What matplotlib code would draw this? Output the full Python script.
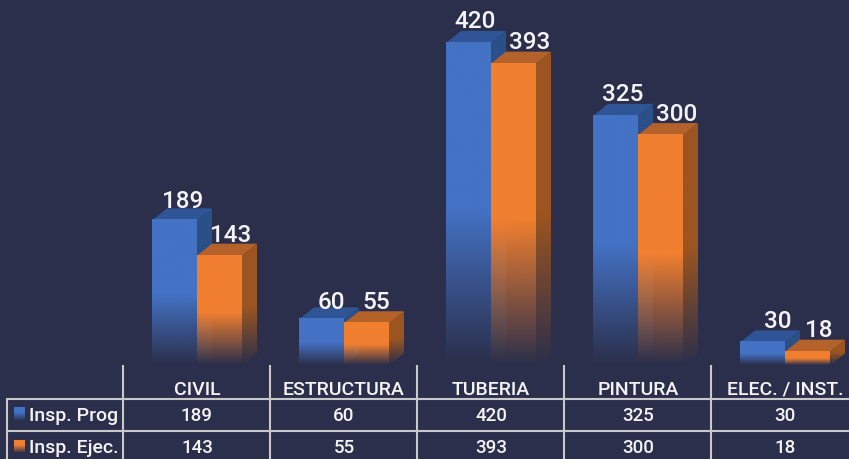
import numpy as np
import matplotlib
matplotlib.use("Agg")
import matplotlib.pyplot as plt
from matplotlib.patches import Polygon
from matplotlib.colors import to_rgb

categories = ["CIVIL", "ESTRUCTURA", "TUBERIA", "PINTURA", "ELEC. / INST."]
insp_prog = [189, 60, 420, 325, 30]
insp_ejec = [143, 55, 393, 300, 18]

# label nudges in pixels, the 3d labels are not centred on the bars
prog_nudge = [8, 10, 7, 7, 15]
ejec_nudge = [11, 10, 16, 16, 11]
prog_lift = [20, 18, 22, 22, 22]
ejec_lift = [21, 22, 22, 22, 22]

BG = "#2b2f4b"
BLUE = ("#4472c4", "#2f5597", "#2b5088")
ORANGE = ("#f17f30", "#b5622a", "#9c5520")
LINE = "#c9c9c9"
WHITE = "#f4f4f4"

plt.rcParams["font.family"] = ["Roboto", "DejaVu Sans"]
plt.rcParams["font.weight"] = "medium"

W, H = 849, 460
PX_X = 147.0    # pixels per category
PX_Y = 0.768    # pixels per unit
X0, Y0 = 197.0, 366.5
BAR = 45 / PX_X
DX, DY = 15 / PX_X, 12 / PX_Y
FADE = 0.48     # part of the bar height that fades out


def py(p):
    return (Y0 - p) / PX_Y


def px(p):
    return (p - X0) / PX_X


fig = plt.figure(figsize=(W / 100, H / 100), dpi=100, facecolor=BG)
ax = fig.add_axes([0, 0, 1, 1])
ax.set_xlim(px(0), px(W))
ax.set_ylim(py(H), py(0))
ax.axis("off")


def fade_image(color, top, bottom, left, right, clip, z):
    # solid colour on top, alpha going to zero in the lower part of the bar
    n = 200
    rgba = np.zeros((n, 1, 4))
    rgba[:, :, :3] = to_rgb(color)
    t = np.linspace(0, 1, n)
    start = 1 - FADE
    rgba[:, 0, 3] = np.clip((1 - t) / (1 - start), 0, 1)
    im = ax.imshow(rgba, extent=(left, right, bottom, top), aspect="auto",
                   interpolation="bilinear", zorder=z)
    im.set_clip_path(clip)


def draw_bar(x, v, colors, z):
    front, top, side = colors
    # side face
    p = Polygon([(x + BAR, 0), (x + BAR + DX, DY), (x + BAR + DX, v + DY), (x + BAR, v)],
                closed=True, fc="none", ec="none", transform=ax.transData)
    ax.add_patch(p)
    fade_image(side, v + DY, 0, x + BAR, x + BAR + DX, p, z)
    # top face
    ax.add_patch(Polygon([(x, v), (x + DX, v + DY), (x + BAR + DX, v + DY), (x + BAR, v)],
                         closed=True, fc=top, ec="none", zorder=z))
    # front face
    fade_image(front, v, 0, x, x + BAR, ax.patch, z + 0.1)


for i in range(len(categories)):
    draw_bar(i - BAR, insp_prog[i], BLUE, 2)
    draw_bar(i, insp_ejec[i], ORANGE, 3)
    ax.annotate(str(insp_prog[i]), (i - BAR / 2, insp_prog[i]),
                xytext=(prog_nudge[i] * 0.72, prog_lift[i] * 0.72), textcoords="offset points",
                ha="center", va="center", color=WHITE, fontsize=17.5, zorder=5)
    ax.annotate(str(insp_ejec[i]), (i + BAR / 2, insp_ejec[i]),
                xytext=(ejec_nudge[i] * 0.72, ejec_lift[i] * 0.72), textcoords="offset points",
                ha="center", va="center", color=WHITE, fontsize=17.5, zorder=5)

# table under the chart
for i in range(len(categories)):
    xl = i - 0.5 - 1 / PX_X
    ax.plot([xl, xl], [py(366), py(H)], color=LINE, lw=1.5, zorder=4, solid_capstyle="butt")
    ax.text(i, py(390), categories[i], ha="center", va="center", color=WHITE, fontsize=14)
    ax.text(i, py(416), str(insp_prog[i]), ha="center", va="center", color=WHITE, fontsize=13.5)
    ax.text(i, py(448), str(insp_ejec[i]), ha="center", va="center", color=WHITE, fontsize=13.5)
ax.plot([px(7), px(7)], [py(399), py(H)], color=LINE, lw=1.5, solid_capstyle="butt")
for p in (399.5, 431.5):
    ax.plot([px(7), px(W)], [py(p), py(p)], color=LINE, lw=1.5, solid_capstyle="butt")

# legend keys in the first column
for name, color, yp in (("Insp. Prog", BLUE[0], 415), ("Insp. Ejec.", ORANGE[0], 447)):
    n = 20
    key = np.zeros((n, 1, 4))
    key[:, :, :3] = to_rgb(color)
    key[:, 0, 3] = np.clip(np.linspace(1.6, 0.15, n), 0, 1)
    ax.imshow(key, extent=(px(14), px(25), py(yp + 6), py(yp - 6)), aspect="auto", zorder=4,
              origin="upper")
    ax.text(px(29), py(yp + 1), name, ha="left", va="center", color=WHITE, fontsize=14)

ax.set_xlim(px(0), px(W))
ax.set_ylim(py(H), py(0))

fig.savefig("out.png", dpi=100, facecolor=BG)
